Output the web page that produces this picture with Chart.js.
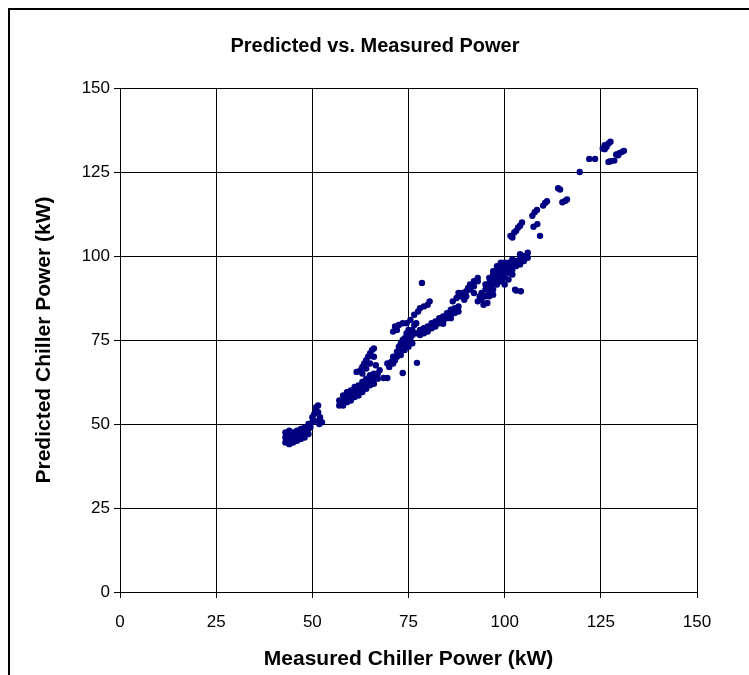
<!DOCTYPE html>
<html>
<head>
<meta charset="utf-8">
<script src="https://cdn.jsdelivr.net/npm/chart.js@4.4.1/dist/chart.umd.min.js"></script>
<style>
  body { margin: 0; background: #fff; }
  #wrap { position: relative; width: 749px; height: 675px; overflow: hidden; }
  #frame { position: absolute; left: 8px; top: 8px; width: 800px; height: 700px;
           border-left: 2px solid #000; border-top: 2px solid #000; }
  #chart { position: absolute; left: 0; top: 0; }
</style>
</head>
<body>
<div id="wrap">
  <div id="frame"></div>
  <canvas id="chart" width="749" height="675"></canvas>
</div>
<script>
// Predicted vs. measured chiller power, kW (measured, predicted)
const axisTicks = [0, 25, 50, 75, 100, 125, 150];

const lowLoad = [
  [43,44.5],[43,46],[43,47.5],[43.5,45],[44,44],[44,45.5],[44,47],[44,48],[44.5,46],
  [45,44.5],[45,46],[45,47.5],[45.5,45],[46,45],[46,46.5],[46,48],[46.5,47],[47,45.5],
  [47,47],[47,48.5],[47.5,46.5],[48,46],[48,47.5],[48,49],[48.5,48],[49,47],[49,48.5],
  [49,50],[49.5,49]
];

const stepLoad = [
  [50,50.5],[50,52],[50.5,53],[51,54],[51,55],[51.5,55.5],[51.5,53.5],[50.5,51],
  [52,51],[52.5,50.5],[52,52],[51.8,50]
];

const midLoad = [
  [57,55.5],[57,57],[58,55.5],[58,57],[58,58.5],[59,56.5],[59,58],[59,59.5],[60,57],
  [60,58.5],[60,60],[61,58],[61,59.5],[61,61],[62,58.5],[62,60],[62,61.5],[63,59.5],
  [63,61],[63,62.5],[64,60.5],[64,62],[64,63.5],[65,61.5],[65,63],[65,64.5],[66,62],
  [66,63.5],[66,65],[67,63.5],[67,65],[67.5,66],
  [61.5,65.5],[62.5,66],[63,67],[63.5,68],[64,66.5],[64,69],[64.5,70],[65,68],[65,71],
  [65.5,72],[66,70],[66,72.5],[66.5,67.5],[63,65],
  [68.5,63.7],[69.5,63.7],[69.5,68],[73.5,65.2],[77.2,68.2]
];

const upperMidLoad = [
  [70,67],[70.5,68.5],[71,68],[71,70],[71.5,69],[72,70],[72,71.5],[72.5,73],[73,70.5],
  [73,72],[73,74],[73.5,75],[74,72],[74,73.5],[74,75.5],[74.5,77],[75,73],[75,74.5],
  [75,76],[75,78],[75.5,75.5],[76,74],[76,76.5],[76,78],[76.5,79.5],[77,77],[77,80],
  [71.5,79],[72.5,79.5],[73.5,80],[74.5,80],[75.5,81],[71,77.5],[72,78]
];

const highLoad = [
  [78,76.5],[78,78],[79,77],[79,78.5],[80,77.5],[80,79],[81,78.5],[81,80],[82,79],
  [82,80.5],[83,80],[83,81.5],[84,80.5],[84,82],[85,81.5],[85,83],[86,82.5],[86,84],
  [87,83],[87,84.5],[88,83.5],[88,85],[86,81.5],[84,79.8],
  [76.5,82.5],[77.5,83.5],[78,84.5],[79,85],[80,85.5],[80.5,86.5],[78.5,92],
  [86.5,86.5],[87.5,87.5],[88,89],[88.5,88],[89,89],[90,89.5],[90,88],[91,90],
  [91,91.5],[92,91],[92,92.5],[93,92.5],[93,93.5],[90.5,90.5],[89.5,87],[92,89]
];

const peakLoad = [
  [93,86.5],[93.5,88],[94,87],[94,89],[94.5,85.5],[95,88],[95,90],[95,91.5],[96,89],
  [96,90.5],[96,92],[97,90],[97,91.5],[97,93],[97,94.5],[98,91.5],[98,93],[98,94.5],
  [98,96],[99,92.5],[99,94],[99,95.5],[99,97],[100,93.5],[100,95],[100,96.5],[100,98],
  [101,95],[101,96.5],[101,98],[102,96],[102,97.5],[102,99],[103,97],[103,98.5],
  [104,97.5],[104,99],[104,100.5],[105,98.5],[105,100],[106,99.5],[106,101],
  [96.5,93.5],[95.5,86],[96,93.5],[97,95.5],[98,97],[99,98],[100,91.5],[101,93],
  [102,94.5],[96,88],[97,88.5],[103,89.7],[104.2,89.5],[102.7,90]
];

const maxLoad = [
  [101.5,106],[102.5,107],[103,107.5],[103.5,108.5],[104,109],[104.5,110],[102,105.5],
  [107.5,108.7],[108.5,109.5],[109.2,106],[107.2,112],[107.8,113],[108.4,113.7],
  [110,115],[110.5,115.8],[111,116.3],[113.9,120.2],[114.4,119.8],[115,116],
  [115.7,116.4],[116.2,116.8],
  [119.5,125],[122,128.9],[123.5,128.9],[125.5,132],[126,133],[126.5,132.5],[127,133.5],
  [127.5,134],[126,131.8],[127.5,128.2],[128.5,128.4],[127,128],[129,130.2],[129.8,130.6],
  [130.5,131],[131,131.3],[129.5,130]
];

const allPoints = [].concat(lowLoad, stepLoad, midLoad, upperMidLoad, highLoad, peakLoad, maxLoad)
  .map(p => ({ x: p[0], y: p[1] }));

const FONT = "'Liberation Sans', Arial, sans-serif";

const titlePlugin = {
  id: 'topTitle',
  afterDraw(chart) {
    const ctx = chart.ctx;
    ctx.save();
    ctx.font = 'bold 20px ' + FONT;
    ctx.fillStyle = '#000';
    ctx.textAlign = 'center';
    ctx.textBaseline = 'middle';
    ctx.fillText('Predicted vs. Measured Power', 375, 46);
    ctx.restore();
  }
};

function axisOpts(titleText, titlePad) {
  return {
    type: 'linear',
    min: 0,
    max: 150,
    afterBuildTicks: s => { s.ticks = axisTicks.map(v => ({ value: v })); },
    ticks: { color: '#000', font: { family: FONT, size: 17 }, padding: 4 },
    grid: { color: '#000', lineWidth: 1, tickLength: 6, tickColor: '#000' },
    border: { color: '#000', width: 1 },
    title: {
      display: true,
      text: titleText,
      color: '#000',
      font: { family: FONT, size: 21, weight: 'bold', lineHeight: 1.2 },
      padding: titlePad
    }
  };
}

const xOpts = axisOpts('Measured Chiller Power (kW)', { top: 0, bottom: 3 });
xOpts.afterFit = s => { s.height = 83; };
xOpts.ticks.padding = 14;
const yOpts = axisOpts('Predicted Chiller Power (kW)', { top: 32, bottom: 0 });
yOpts.afterFit = s => { s.width = 120; };

new Chart(document.getElementById('chart'), {
  type: 'scatter',
  data: {
    datasets: [{
      data: allPoints,
      pointRadius: 3.2,
      pointBackgroundColor: '#000080',
      pointBorderColor: '#000080',
      pointBorderWidth: 0
    }]
  },
  options: {
    responsive: false,
    animation: false,
    events: [],
    layout: { padding: { top: 88, right: 52, left: 0, bottom: 0 } },
    scales: { x: xOpts, y: yOpts },
    plugins: { legend: { display: false }, tooltip: { enabled: false } }
  },
  plugins: [titlePlugin]
});
</script>
</body>
</html>
